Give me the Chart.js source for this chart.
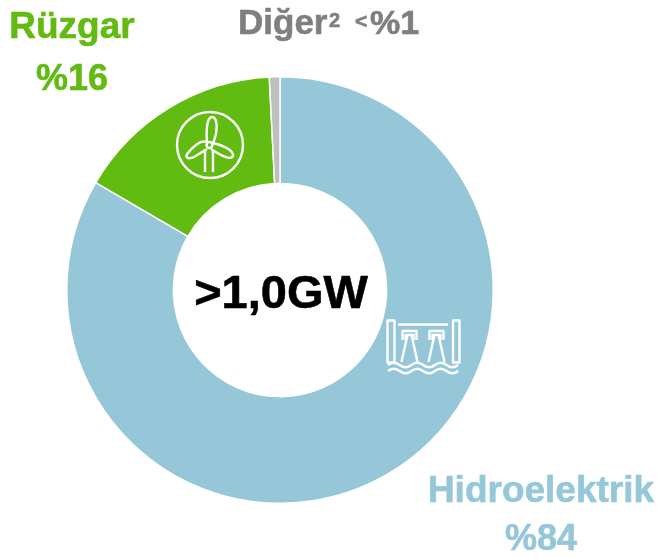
<!DOCTYPE html>
<html>
<head>
<meta charset="utf-8">
<style>
  html, body { margin: 0; padding: 0; background: #fff; }
  #wrap { width: 659px; height: 559px; }
</style>
<script src="https://cdn.jsdelivr.net/npm/chart.js@4"></script>
</head>
<body>
<div id="wrap"><canvas id="chart" width="659" height="559"></canvas></div>
<script>
// DATA
const categories = ['Hidroelektrik', 'Rüzgar', 'Diğer'];
const shares = [83.4, 15.8, 0.8];
const colors = ['#95C7D9', '#62BB10', '#BFBFBF'];
const centerLabel = '>1,0GW';

const FONT = '"Liberation Sans", Arial, sans-serif';

function text(ctx, str, x, y, size, color, align) {
  ctx.font = `bold ${size}px ${FONT}`;
  ctx.fillStyle = color;
  ctx.strokeStyle = color;
  ctx.lineWidth = 0.6;
  ctx.textAlign = align || 'center';
  ctx.textBaseline = 'alphabetic';
  ctx.fillText(str, x, y);
  ctx.strokeText(str, x, y);
}

// ICONS
function drawTurbine(ctx) {
  ctx.beginPath();
  ctx.arc(210, 145, 33, 0, Math.PI * 2);
  ctx.stroke();
  // tower
  ctx.beginPath();
  ctx.moveTo(205, 150); ctx.lineTo(205, 172);
  ctx.moveTo(213, 150); ctx.lineTo(213, 172);
  ctx.stroke();
  // hub
  ctx.beginPath();
  ctx.arc(209.5, 145, 3, 0, Math.PI * 2);
  ctx.stroke();
  // blades
  ctx.beginPath();
  ctx.moveTo(207, 142);
  ctx.bezierCurveTo(206, 130, 207, 117, 212, 117);
  ctx.bezierCurveTo(218, 117, 218, 132, 213, 143);
  ctx.moveTo(213, 143);
  ctx.bezierCurveTo(222, 145, 234, 150, 233, 156);
  ctx.bezierCurveTo(231, 161, 220, 155, 211, 149);
  ctx.moveTo(206, 142);
  ctx.bezierCurveTo(200, 139, 192, 148, 187, 154);
  ctx.bezierCurveTo(185, 159, 190, 159, 194, 157);
  ctx.lineTo(207, 149);
  ctx.stroke();
}

function wave(ctx, x0, x1, y) {
  const step = 11.7;
  ctx.beginPath();
  ctx.moveTo(x0, y);
  for (let x = x0, up = true; x < x1; x += step, up = !up) {
    ctx.quadraticCurveTo(x + step / 2, y + (up ? -4.5 : 4.5), x + step, y);
  }
  ctx.stroke();
}

function drawDam(ctx) {
  ctx.strokeRect(387.5, 320.5, 7, 42);
  ctx.strokeRect(453, 320.5, 6.5, 42);
  ctx.beginPath();
  ctx.moveTo(398, 324.5); ctx.lineTo(448, 324.5);
  ctx.stroke();
  [402.5, 429.5].forEach(x => {
    ctx.beginPath();
    ctx.moveTo(x, 340); ctx.lineTo(x, 331); ctx.lineTo(x + 14, 331); ctx.lineTo(x + 14, 340);
    ctx.moveTo(x + 3, 340); ctx.lineTo(x + 3, 335); ctx.lineTo(x + 11, 335); ctx.lineTo(x + 11, 340);
    ctx.moveTo(x + 5, 335); ctx.lineTo(x - 1, 362);
    ctx.moveTo(x + 9, 335); ctx.lineTo(x + 15, 362);
    ctx.stroke();
  });
  wave(ctx, 388, 458, 365);
  wave(ctx, 388, 458, 371);
}

const labelsPlugin = {
  id: 'labels',
  afterDraw(chart) {
    const ctx = chart.ctx;
    ctx.save();
    text(ctx, centerLabel, 281, 308, 47, '#000000');

    text(ctx, categories[1], 72, 38, 37, colors[1]);
    text(ctx, '%16', 72, 90, 36, colors[1]);

    const gray = '#7F7F7F';
    text(ctx, categories[2], 238, 34, 35, gray, 'left');
    text(ctx, '2', 329, 27, 20, gray, 'left');
    text(ctx, '<', 355, 28, 21, gray, 'left');
    text(ctx, '%1', 370, 34, 34, gray, 'left');

    text(ctx, categories[0], 541, 502, 37, colors[0]);
    text(ctx, '%84', 541, 550, 36, colors[0]);

    ctx.strokeStyle = '#FFFFFF';
    ctx.lineWidth = 2.4;
    ctx.lineJoin = 'round';
    drawTurbine(ctx);
    drawDam(ctx);
    ctx.restore();
  }
};

new Chart(document.getElementById('chart'), {
  type: 'doughnut',
  data: {
    labels: categories,
    datasets: [{
      data: shares,
      backgroundColor: colors,
      borderColor: '#FFFFFF',
      borderWidth: 1.5
    }]
  },
  options: {
    responsive: false,
    animation: false,
    cutout: '50%',
    layout: { padding: { left: 66, right: 165, top: 76, bottom: 55 } },
    plugins: { legend: { display: false }, tooltip: { enabled: false } }
  },
  plugins: [labelsPlugin]
});
</script>
</body>
</html>
